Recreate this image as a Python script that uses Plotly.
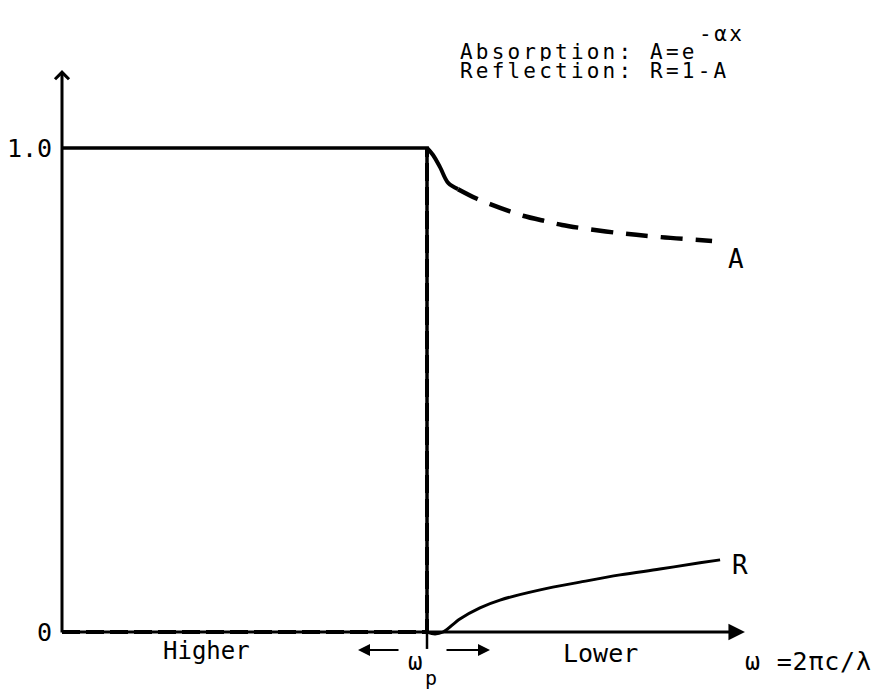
import plotly.graph_objects as go

# Abscissa: frequency scaled so that the plasma frequency sits at 1.0
omega_p = 1.0

# omega > omega_p (left side): full reflection, no absorption
high_x = [0.0, 1.0]
R_high = [1.0, 1.0]
A_high = [0.0, 0.0]

# Absorption just below omega_p: short solid hook, then dashed tail
A_hook_x = [1.0, 1.016, 1.036, 1.058, 1.085]
A_hook = [1.0, 0.986, 0.960, 0.928, 0.915]
A_tail_x = [1.085, 1.137, 1.173, 1.227, 1.263, 1.329, 1.370, 1.419, 1.529, 1.638, 1.781]
A_tail = [0.915, 0.895, 0.884, 0.869, 0.860, 0.848, 0.841, 0.835, 0.824, 0.816, 0.808]

# Reflection below omega_p
R_low_x = [1.0, 1.022, 1.044, 1.090, 1.145, 1.200, 1.310, 1.419, 1.529, 1.638, 1.748, 1.803]
R_low = [0.0, -0.004, 0.0, 0.027, 0.050, 0.066, 0.087, 0.103, 0.118, 0.130, 0.143, 0.149]

# Axis extent (arrow tips) and tick labels
x_end = 1.871
y_end = 1.161
y_ticks = [0.0, 1.0]
y_tick_text = ["0", "1.0"]

MONO = "DejaVu Sans Mono"
INK = "#000000"

# plot-area geometry in pixels
W, H = 878, 693
L, R_M, T, B = 44, 122, 66, 42
PW, PH = W - L - R_M, H - T - B
X0 = -(62 - L) / 365.0
Y0 = -(651 - 632) / 484.0


def paper(px, py):
    return (px - L) / PW, (T + PH - py) / PH


fig = go.Figure()

# A = 0 above omega_p, then the vertical jump at omega_p
fig.add_trace(go.Scatter(x=high_x + [omega_p], y=A_high + [1.0], mode="lines",
                         line=dict(color=INK, width=4, dash="18px,6px")))
# R = 1 above omega_p and its drop to zero
fig.add_trace(go.Scatter(x=high_x + [omega_p], y=R_high + [0.0], mode="lines",
                         line=dict(color=INK, width=3.5)))
# ωp tick below the axis
fig.add_trace(go.Scatter(x=[omega_p, omega_p], y=[0.0, -0.035], mode="lines",
                         line=dict(color=INK, width=2.5)))
# A below omega_p
fig.add_trace(go.Scatter(x=A_hook_x, y=A_hook, mode="lines",
                         line=dict(color=INK, width=4, shape="spline")))
fig.add_trace(go.Scatter(x=A_tail_x, y=A_tail, mode="lines",
                         line=dict(color=INK, width=4.5, dash="22px,13px", shape="spline")))
# R below omega_p
fig.add_trace(go.Scatter(x=R_low_x, y=R_low, mode="lines",
                         line=dict(color=INK, width=3, shape="spline", smoothing=1.0)))

ann = []
# axes drawn as arrows
ann.append(dict(x=0, y=y_end, ax=0, ay=Y0 * 0.1, xref="x", yref="y", axref="x", ayref="y",
                showarrow=True, arrowhead=4, arrowsize=0.9, arrowwidth=3, arrowcolor=INK, text=""))
ann.append(dict(x=x_end, y=0, ax=0, ay=0, xref="x", yref="y", axref="x", ayref="y",
                showarrow=True, arrowhead=2, arrowsize=1.1, arrowwidth=3, arrowcolor=INK, text=""))

# y tick labels
for v, t in zip(y_ticks, y_tick_text):
    ann.append(dict(x=0, y=v, xref="x", yref="y", xanchor="right", yanchor="middle",
                    xshift=-8, text=t, showarrow=False, font=dict(family=MONO, size=25, color=INK)))

# curve labels
ann.append(dict(x=A_tail_x[-1], y=A_tail[-1], xref="x", yref="y", xanchor="left", yanchor="middle",
                xshift=14, yshift=-18, text="A", showarrow=False,
                font=dict(family=MONO, size=26, color=INK)))
ann.append(dict(x=R_low_x[-1], y=R_low[-1], xref="x", yref="y", xanchor="left", yanchor="middle",
                xshift=10, yshift=-5, text="R", showarrow=False,
                font=dict(family=MONO, size=26, color=INK)))


def text_at(px, py, txt, size, xanchor="center", spacing=None, height=None):
    xp, yp = paper(px, py)
    if spacing:
        txt = f'<span style="letter-spacing:{spacing}px">{txt}</span>'
    a = dict(x=xp, y=yp, xref="paper", yref="paper", xanchor=xanchor, yanchor="middle",
             text=txt, showarrow=False, font=dict(family=MONO, size=size, color=INK))
    if height:
        a["height"] = height
    ann.append(a)


# formulae in the upper right
text_at(458, 51, "Absorption: A=e", 21, xanchor="left", spacing=3.2, height=19)
text_at(697, 34, "-αx", 21, xanchor="left", spacing=2.5, height=16)
text_at(458, 71, "Reflection: R=1-A", 21, xanchor="left", spacing=3.2, height=19)

# x-axis captions
text_at(206, 651, "Higher", 24)
text_at(600, 653, "Lower", 25)
text_at(808, 661, "ω =2πc/λ", 25, spacing=0.8)
text_at(415, 662, "ω", 24)
text_at(431, 678, "p", 20)

# direction arrows either side of ωp
for tail, head in [((400, 650), (358, 650)), ((445, 650), (490, 650))]:
    hx, hy = paper(*head)
    ann.append(dict(x=hx, y=hy, xref="paper", yref="paper", ax=tail[0] - head[0], ay=tail[1] - head[1],
                    showarrow=True, arrowhead=2, arrowsize=1.2, arrowwidth=2, arrowcolor=INK, text=""))

fig.update_layout(
    width=W, height=H,
    margin=dict(l=L, r=R_M, t=T, b=B, autoexpand=False),
    paper_bgcolor="white", plot_bgcolor="white",
    showlegend=False,
    annotations=ann,
    xaxis=dict(range=[X0, X0 + PW / 365.0], visible=False, fixedrange=True),
    yaxis=dict(range=[Y0, Y0 + PH / 484.0], visible=False, fixedrange=True),
)

fig.write_html("out.html", config={"displayModeBar": False})
